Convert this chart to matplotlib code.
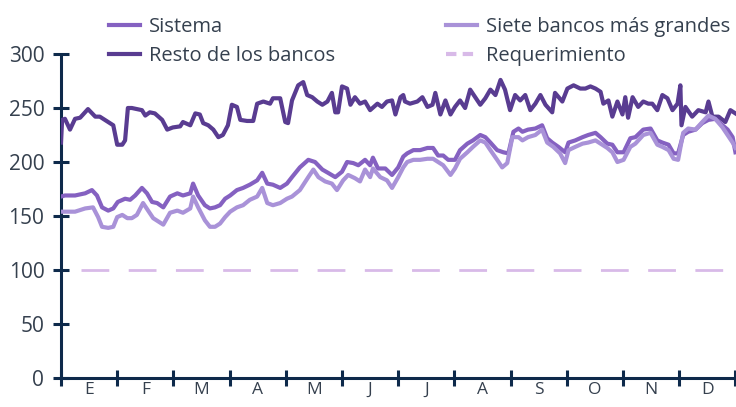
import matplotlib
matplotlib.use("Agg")
import matplotlib.pyplot as plt
from matplotlib.lines import Line2D

plt.rcParams['font.family'] = ['Open Sans', 'DejaVu Sans']

# --- data (x in months from start of year, values in %) ---
resto_x = [0.00, 0.02, 0.07, 0.16, 0.25, 0.34, 0.48, 0.61, 0.69, 0.84, 0.93, 1.00, 1.09, 1.14, 1.19, 1.26,
           1.44, 1.50, 1.58, 1.67, 1.80, 1.89, 1.99, 2.12, 2.17, 2.30, 2.39, 2.47, 2.53, 2.62, 2.71, 2.80,
           2.88, 2.97, 3.04, 3.13, 3.19, 3.31, 3.42, 3.49, 3.60, 3.72, 3.77, 3.90, 3.99, 4.04, 4.11, 4.22,
           4.31, 4.38, 4.47, 4.56, 4.65, 4.74, 4.82, 4.88, 4.93, 5.00, 5.09, 5.15, 5.23, 5.32, 5.41, 5.50,
           5.63, 5.71, 5.80, 5.89, 5.95, 6.04, 6.09, 6.12, 6.21, 6.34, 6.43, 6.52, 6.61, 6.66, 6.75, 6.84,
           6.93, 7.01, 7.10, 7.19, 7.28, 7.37, 7.46, 7.55, 7.64, 7.73, 7.82, 7.90, 7.99, 8.08, 8.17, 8.26,
           8.35, 8.44, 8.53, 8.62, 8.74, 8.79, 8.92, 9.01, 9.12, 9.24, 9.33, 9.42, 9.51, 9.60, 9.65, 9.74,
           9.81, 9.90, 9.99, 10.04, 10.09, 10.17, 10.27, 10.36, 10.45, 10.52, 10.61, 10.70, 10.79, 10.88,
           10.97, 11.02, 11.04, 11.11, 11.23, 11.34, 11.47, 11.52, 11.59, 11.70, 11.82, 11.91, 12.00]
resto_v = [218, 239, 240, 230, 240, 241, 249, 242, 242, 237, 234, 216, 216, 220, 250, 250,
           248, 243, 246, 245, 239, 230, 232, 233, 237, 234, 245, 244, 236, 234, 230, 223,
           225, 234, 253, 251, 239, 238, 238, 254, 256, 254, 259, 259, 237, 236, 257, 271,
           274, 262, 260, 256, 253, 256, 264, 246, 246, 270, 268, 253, 260, 254, 256, 248,
           254, 251, 256, 257, 244, 260, 262, 256, 254, 256, 260, 251, 253, 264, 244, 257,
           244, 251, 257, 250, 267, 260, 253, 259, 267, 262, 276, 267, 248, 262, 257, 262,
           248, 254, 262, 253, 246, 264, 256, 268, 271, 268, 268, 270, 268, 265, 254, 257,
           242, 256, 244, 260, 241, 260, 251, 256, 254, 254, 248, 262, 259, 248,
           254, 271, 234, 251, 242, 248, 246, 256, 242, 242, 237, 248, 245]

sistema_x = [0.00, 0.07, 0.25, 0.43, 0.55, 0.64, 0.73, 0.84, 0.93, 1.01, 1.14, 1.23, 1.32, 1.44, 1.53,
             1.62, 1.71, 1.82, 1.94, 2.07, 2.17, 2.30, 2.35, 2.44, 2.56, 2.65, 2.74, 2.83, 2.92, 3.01,
             3.13, 3.24, 3.36, 3.49, 3.58, 3.67, 3.77, 3.90, 4.02, 4.11, 4.25, 4.40, 4.52, 4.65, 4.75,
             4.88, 5.00, 5.09, 5.20, 5.29, 5.41, 5.50, 5.55, 5.64, 5.77, 5.89, 6.00, 6.09, 6.16, 6.27,
             6.39, 6.52, 6.62, 6.71, 6.80, 6.89, 7.01, 7.10, 7.23, 7.33, 7.46, 7.55, 7.64, 7.76, 7.87,
             7.96, 8.05, 8.14, 8.21, 8.31, 8.44, 8.56, 8.65, 8.74, 8.85, 8.97, 9.03, 9.15, 9.28, 9.38,
             9.51, 9.60, 9.72, 9.81, 9.90, 10.01, 10.13, 10.22, 10.36, 10.49, 10.61, 10.70, 10.81, 10.90,
             10.98, 11.07, 11.16, 11.29, 11.41, 11.52, 11.64, 11.77, 11.86, 11.95, 12.00]
sistema_v = [168, 169, 169, 171, 174, 169, 158, 155, 157, 163, 166, 165, 169, 176, 171,
             163, 162, 158, 168, 171, 169, 171, 180, 169, 160, 157, 158, 160, 166, 169,
             174, 176, 179, 183, 190, 180, 179, 176, 180, 186, 195, 202, 200, 193, 190,
             186, 191, 200, 199, 197, 202, 197, 204, 194, 194, 188, 195, 205, 208, 211,
             211, 213, 213, 206, 206, 202, 202, 211, 217, 220, 225, 223, 218, 211, 209,
             208, 228, 231, 228, 230, 231, 234, 222, 218, 214, 209, 218, 220, 223, 225,
             227, 223, 217, 216, 209, 209, 222, 223, 230, 231, 220, 218, 216, 208,
             208, 225, 228, 230, 236, 239, 240, 234, 230, 223, 209]

siete_x = [0.00, 0.25, 0.43, 0.57, 0.66, 0.73, 0.84, 0.93, 1.00, 1.09, 1.18, 1.26, 1.35, 1.46, 1.55,
           1.64, 1.73, 1.82, 1.94, 2.07, 2.17, 2.30, 2.35, 2.44, 2.56, 2.65, 2.74, 2.83, 2.92, 3.01,
           3.13, 3.24, 3.36, 3.49, 3.58, 3.67, 3.77, 3.90, 4.02, 4.11, 4.25, 4.40, 4.49, 4.58, 4.70,
           4.82, 4.91, 5.02, 5.11, 5.23, 5.32, 5.41, 5.50, 5.55, 5.68, 5.80, 5.89, 6.00, 6.09, 6.16,
           6.27, 6.39, 6.52, 6.62, 6.71, 6.80, 6.93, 7.01, 7.10, 7.23, 7.33, 7.46, 7.55, 7.64, 7.76,
           7.85, 7.94, 8.03, 8.14, 8.21, 8.31, 8.44, 8.56, 8.65, 8.76, 8.88, 8.97, 9.03, 9.15, 9.28,
           9.38, 9.51, 9.60, 9.72, 9.81, 9.90, 10.01, 10.13, 10.22, 10.36, 10.49, 10.61, 10.70, 10.81,
           10.90, 10.98, 11.07, 11.16, 11.29, 11.41, 11.52, 11.64, 11.77, 11.86, 11.95, 12.00]
siete_v = [154, 154, 157, 158, 149, 140, 139, 140, 149, 151, 148, 148, 151, 162, 155,
           148, 145, 142, 153, 155, 153, 157, 168, 158, 146, 140, 140, 143, 149, 154,
           158, 160, 165, 168, 176, 162, 160, 162, 166, 168, 174, 186, 193, 186, 182,
           180, 174, 183, 188, 185, 182, 193, 186, 194, 186, 183, 176, 186, 195, 200,
           202, 202, 203, 203, 200, 197, 188, 194, 203, 209, 214, 220, 218, 211, 202,
           195, 199, 223, 223, 220, 223, 225, 230, 218, 214, 208, 199, 211, 214, 217,
           218, 220, 217, 213, 209, 200, 202, 214, 217, 225, 227, 216, 214, 211,
           203, 202, 227, 231, 230, 237, 243, 240, 232, 225, 218, 213]

requerimiento = 100
meses = ["E", "F", "M", "A", "M", "J", "J", "A", "S", "O", "N", "D"]
y_ticks = [0, 50, 100, 150, 200, 250, 300]

labels = ["Sistema", "Resto de los bancos", "Siete bancos más grandes", "Requerimiento"]
c_sis = "#8561C1"
c_resto = "#593C91"
c_siete = "#A992D8"
c_req = "#D8BAE8"
axis_c = "#0E2A4B"
text_c = "#35404E"

fig = plt.figure(figsize=(7.36, 4.07), dpi=100)
W, H = 736, 407
ax = fig.add_axes([61 / W, (H - 378) / H, 675 / W, (378 - 54) / H])

lw = 3.0
ax.plot(resto_x, resto_v, color=c_resto, lw=lw, solid_joinstyle='round', zorder=3)
ax.plot(sistema_x, sistema_v, color=c_sis, lw=lw, solid_joinstyle='round', zorder=4)
ax.plot(siete_x, siete_v, color=c_siete, lw=lw, solid_joinstyle='round', zorder=5)
ax.axhline(requerimiento, xmin=0.03, color=c_req, lw=2.0, dashes=(10, 7), zorder=2)

ax.set_xlim(0, 12.01)
ax.set_ylim(0, 300)
for s in ['top', 'right']:
    ax.spines[s].set_visible(False)
for s in ['left', 'bottom']:
    ax.spines[s].set_color(axis_c)
    ax.spines[s].set_linewidth(2.2)
    ax.spines[s].set_capstyle('butt')

fs = 15
ax.set_yticks(y_ticks)
ax.set_yticklabels([str(v) for v in y_ticks])
ax.set_xticks(range(13))
ax.set_xticklabels([])
ax.set_xticks([i + 0.5 for i in range(12)], minor=True)
ax.set_xticklabels(meses, minor=True)
ax.tick_params(axis='y', direction='inout', length=12, width=2.2, color=axis_c,
               labelsize=fs, labelcolor=text_c, pad=6)
ax.tick_params(axis='x', which='major', direction='inout', length=11, width=2.2, color=axis_c)
ax.tick_params(axis='x', which='minor', length=0, labelsize=12.5, labelcolor=text_c, pad=3)

lfs = 14.5
handles = [Line2D([], [], color=c_sis, lw=3),
           Line2D([], [], color=c_resto, lw=3),
           Line2D([], [], color=c_siete, lw=3),
           Line2D([], [], color=c_req, lw=3, dashes=(2.5, 1.5))]
leg = fig.legend(handles, labels, ncol=2, frameon=False, loc='upper left',
                 bbox_to_anchor=(109 / W, 1 - 17 / H), fontsize=lfs,
                 handlelength=1.55, handletextpad=0.45, columnspacing=5.5,
                 labelspacing=0.45, borderpad=0, borderaxespad=0)
for t in leg.get_texts():
    t.set_color(text_c)

fig.savefig("out.png", dpi=100)
